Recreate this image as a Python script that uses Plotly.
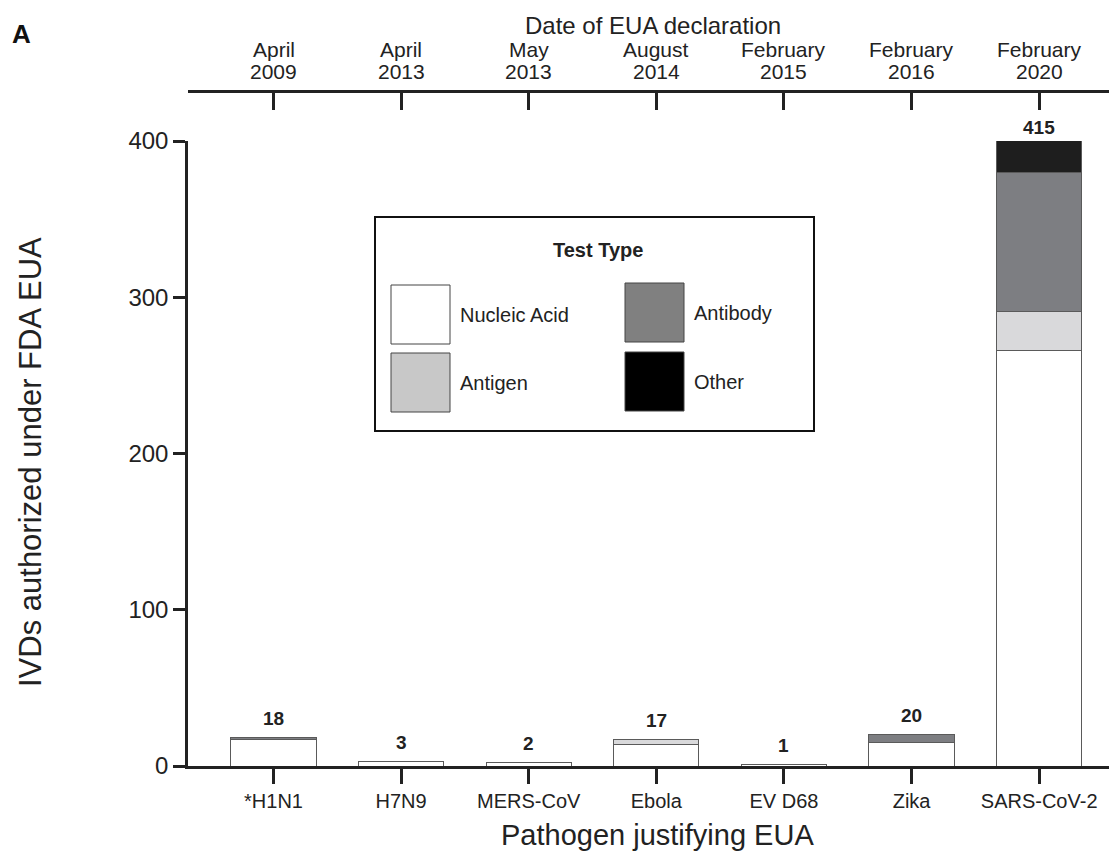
import plotly.graph_objects as go

pathogens = ["*H1N1", "H7N9", "MERS-CoV", "Ebola", "EV D68", "Zika", "SARS-CoV-2"]
date_months = ["April", "April", "May", "August", "February", "February", "February"]
date_years = ["2009", "2013", "2013", "2014", "2015", "2016", "2020"]
nucleic_acid = [17, 3, 2, 14, 1, 15, 266]
antigen = [0, 0, 0, 3, 0, 0, 25]
antibody = [1, 0, 0, 0, 0, 5, 89]
other = [0, 0, 0, 0, 0, 0, 35]

series_names = ["Nucleic Acid", "Antigen", "Antibody", "Other"]
series_values = [nucleic_acid, antigen, antibody, other]
bar_colors = ["#ffffff", "#d9d9db", "#7d7e82", "#1e1e1e"]
legend_colors = ["#ffffff", "#c8c8c8", "#808080", "#000000"]
y_ticks = [0, 100, 200, 300, 400]

FONT = "Liberation Sans, Arial, sans-serif"
OFF = 8  # page body margin
W, H = 1117 - OFF, 855 - OFF
ML, MR, MT, MB = 188 - OFF, 0, 91 - OFF, 855 - 766
PW, PH = W - ML - MR, H - MT - MB
y_top_px = 141  # real pixel of y=400
ydom_top = (766 - y_top_px) / PH


def px_x(px):
    return (px - OFF - ML) / PW


def px_y(py):
    return (H - MB - (py - OFF)) / PH


xpos = list(range(len(pathogens)))

fig = go.Figure()
for name, vals, col in zip(series_names, series_values, bar_colors):
    fig.add_trace(go.Bar(
        x=xpos, y=vals, name=name, width=0.667,
        marker=dict(color=col, line=dict(color="#5a5a5a", width=1)),
        showlegend=False, hoverinfo="skip",
    ))

# invisible trace for top axis
fig.add_trace(go.Scatter(x=xpos, y=[0] * len(xpos), xaxis="x2", yaxis="y",
                         mode="markers", marker=dict(opacity=0),
                         showlegend=False, hoverinfo="skip"))

totals = [sum(v) for v in zip(*series_values)]
ymax = 400
annotations = []
for xi, t in zip(xpos, totals):
    annotations.append(dict(
        x=xi, y=min(t, ymax), xref="x", yref="y", text=f"<b>{t}</b>",
        showarrow=False, yanchor="middle", yshift=19 if t < ymax else 14,
        font=dict(family=FONT, size=19, color="#222")))

# top axis tick labels (month / year on two tight lines)
for xi, m, yv in zip(xpos, date_months, date_years):
    annotations.append(dict(x=xi, y=px_y(50), xref="x2", yref="paper", text=m,
                            showarrow=False, xanchor="center", yanchor="middle",
                            font=dict(family=FONT, size=21, color="#222")))
    annotations.append(dict(x=xi, y=px_y(72), xref="x2", yref="paper", text=yv,
                            showarrow=False, xanchor="center", yanchor="middle",
                            font=dict(family=FONT, size=21, color="#222")))

# panel label
annotations.append(dict(x=px_x(10), y=px_y(34), xref="paper", yref="paper",
                        text="<b>A</b>", showarrow=False, xanchor="left", yanchor="middle",
                        font=dict(family=FONT, size=26, color="#111")))
# titles
annotations.append(dict(x=px_x(653), y=px_y(25), xref="paper", yref="paper",
                        text="Date of EUA declaration", showarrow=False,
                        xanchor="center", yanchor="middle",
                        font=dict(family=FONT, size=24, color="#222")))
annotations.append(dict(x=px_x(657), y=px_y(835), xref="paper", yref="paper",
                        text="Pathogen justifying EUA", showarrow=False,
                        xanchor="center", yanchor="middle",
                        font=dict(family=FONT, size=29, color="#222")))
annotations.append(dict(x=px_x(30), y=px_y(462), xref="paper", yref="paper",
                        text="IVDs authorized under FDA EUA", showarrow=False, textangle=-90,
                        xanchor="center", yanchor="middle",
                        font=dict(family=FONT, size=31, color="#222")))

# legend box built from shapes
shapes = []
shapes.append(dict(type="rect", xref="paper", yref="paper",
                   x0=px_x(375), x1=px_x(814),
                   y0=px_y(431), y1=px_y(217),
                   line=dict(color="#111", width=2), fillcolor="white", layer="above"))
annotations.append(dict(x=px_x(598), y=px_y(250), xref="paper", yref="paper",
                        text="<b>Test Type</b>", showarrow=False, xanchor="center", yanchor="middle",
                        font=dict(family=FONT, size=20, color="#222")))
sw = [(391, 285), (391, 353), (625, 283), (625, 352)]
for (sx, sy), name, col in zip(sw, series_names, legend_colors):
    shapes.append(dict(type="rect", xref="paper", yref="paper",
                       x0=px_x(sx), x1=px_x(sx + 59),
                       y0=px_y(sy + 59), y1=px_y(sy),
                       line=dict(color="#444", width=1), fillcolor=col, layer="above"))
    annotations.append(dict(x=px_x(sx + 67), y=px_y(sy + 30),
                            xref="paper", yref="paper", text=name, showarrow=False,
                            xanchor="left", yanchor="middle",
                            font=dict(family=FONT, size=20, color="#222")))

xr = [-0.67, 6.61]
fig.update_layout(
    width=W, height=H, margin=dict(l=ML, r=MR, t=MT, b=MB),
    paper_bgcolor="white", plot_bgcolor="white",
    barmode="stack",
    font=dict(family=FONT, color="#222"),
    xaxis=dict(range=xr, tickvals=xpos, ticktext=pathogens, showgrid=False, zeroline=False,
               showline=True, linecolor="#222", linewidth=2.5, ticks="outside", ticklen=15,
               tickwidth=2.5, tickcolor="#222", tickfont=dict(family=FONT, size=20, color="#222")),
    xaxis2=dict(range=xr, tickvals=xpos, showticklabels=False, overlaying="x", side="top",
                anchor="free", position=1, showgrid=False, zeroline=False,
                showline=True, linecolor="#222", linewidth=2.5, ticks="inside", ticklen=17,
                tickwidth=2.5, tickcolor="#222"),
    yaxis=dict(range=[0, ymax], domain=[0, ydom_top], tickvals=y_ticks, showgrid=False,
               zeroline=False, showline=True, linecolor="#222", linewidth=2.5,
               ticks="outside", ticklen=12, tickwidth=2.5, tickcolor="#222",
               tickfont=dict(family=FONT, size=24, color="#222")),
    shapes=shapes, annotations=annotations,
)

fig.write_html("out.html")
